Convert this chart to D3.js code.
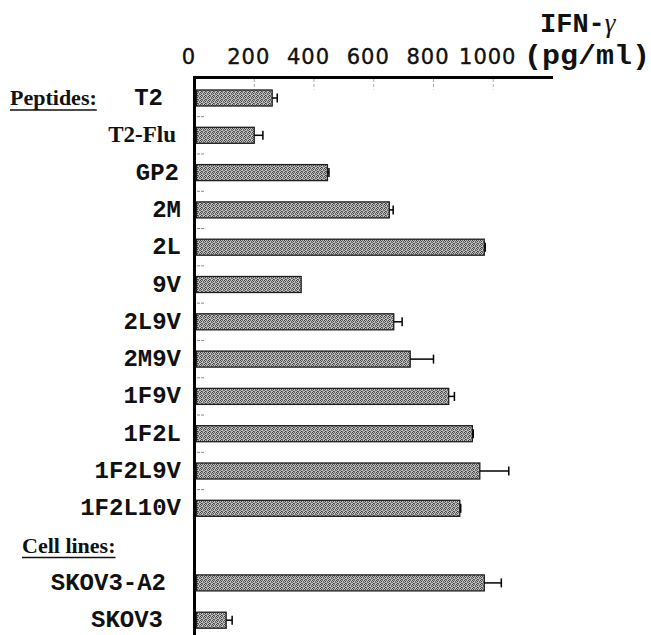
<!DOCTYPE html>
<html>
<head>
<meta charset="utf-8">
<script src="https://cdn.jsdelivr.net/npm/d3@7"></script>
<style>
  html, body { margin: 0; padding: 0; background: #fff; }
  svg { display: block; }
</style>
</head>
<body>
<svg id="chart" width="651" height="635"></svg>
<script>
// IFN-gamma release (pg/ml) per target
const categories = ["T2", "T2-Flu", "GP2", "2M", "2L", "9V", "2L9V", "2M9V",
                    "1F9V", "1F2L", "1F2L9V", "1F2L10V", "SKOV3-A2", "SKOV3"];
const values = [260, 200, 445, 652, 970, 357, 667, 722, 851, 930, 955, 888, 970, 106];
const errors = [17, 29, 5, 13, 3, 0, 28, 78, 19, 3, 97, 3, 57, 20];
const groupLabels = ["Peptides:", "Cell lines:"];
const tickValues = [0, 200, 400, 600, 800, 1000];

// Row slot of each category (slot 12 holds the "Cell lines:" heading)
const slots = categories.map((c, i) => i < 12 ? i : i + 1);

// Layout
const svg = d3.select("#chart");
const axisX = 194.5, axisY = 77.5;
const x = d3.scaleLinear().domain([0, 1200]).range([axisX, 553]);
const y = d3.scaleLinear().domain([0, 14]).range([98, 98 + 37.3 * 14]);
const barH = 16;

const mono = "'Courier New', 'Liberation Mono', monospace";
const serif = "'Times New Roman', 'Liberation Serif', serif";
const serifLabels = new Set(["T2-Flu"]);
// right edge of each row label
const labelRight = { "T2": 163, "T2-Flu": 176, "GP2": 179, "SKOV3-A2": 166, "SKOV3": 163 };

// stippled bar fill (irregular 4x4 dot cell)
const defs = svg.append("defs");
const pat = defs.append("pattern").attr("id", "stipple")
  .attr("patternUnits", "userSpaceOnUse").attr("width", 4).attr("height", 4);
pat.append("rect").attr("width", 4).attr("height", 4).attr("fill", "#c2c2c2");
const dots = [[0,0],[2,0],[3,1],[1,1],[0,2],[2,3],[1,3],[3,2]];
pat.selectAll("rect.d").data(dots).join("rect").attr("class", "d")
  .attr("x", d => d[0]).attr("y", d => d[1]).attr("width", 1).attr("height", 1)
  .attr("fill", (d, i) => i % 3 === 0 ? "#404040" : "#6a6a6a");

// top value axis
const axis = d3.axisTop(x).tickValues(tickValues).tickSize(0).tickFormat(d3.format("d"));
const gAxis = svg.append("g").attr("transform", `translate(0,${axisY})`).call(axis);
gAxis.select(".domain").remove();
gAxis.selectAll(".tick text")
  .attr("dx", -6).attr("y", -14)
  .attr("font-family", "'DejaVu Sans', sans-serif")
  .attr("font-size", 21).attr("letter-spacing", 1).attr("fill", "#111")
  .attr("stroke", "#111").attr("stroke-width", 0.4);

// light tick marks under the axis line
svg.append("g").selectAll("line").data(tickValues.slice(1)).join("line")
  .attr("x1", d => x(d)).attr("x2", d => x(d))
  .attr("y1", axisY + 1.5).attr("y2", axisY + 12)
  .attr("stroke", "#aaa").attr("stroke-width", 1).attr("stroke-dasharray", "3,2");

svg.append("line").attr("x1", axisX - 1.5).attr("x2", x(1200))
  .attr("y1", axisY).attr("y2", axisY).attr("stroke", "#000").attr("stroke-width", 3);
svg.append("line").attr("x1", axisX).attr("x2", axisX)
  .attr("y1", axisY - 1.5).attr("y2", 635).attr("stroke", "#000").attr("stroke-width", 3);

// axis title
const title = svg.append("g").attr("font-family", mono).attr("font-weight", "bold")
  .attr("font-size", 27).attr("fill", "#111");
const t1 = title.append("text").attr("x", 540).attr("y", 32);
t1.append("tspan").text("IFN-");
t1.append("tspan").attr("font-family", serif).attr("font-style", "italic")
  .attr("font-weight", "normal").text("γ");
title.append("text").attr("x", 524).attr("y", 64).attr("textLength", 126)
  .attr("lengthAdjust", "spacingAndGlyphs").text("(pg/ml)");

// faint marks between rows along the axis
svg.append("g").selectAll("line").data(d3.range(11)).join("line")
  .attr("x1", 197).attr("x2", 204)
  .attr("y1", d => y(d + 0.5)).attr("y2", d => y(d + 0.5))
  .attr("stroke", "#888").attr("stroke-width", 1).attr("stroke-dasharray", "3,1");

// bars
svg.append("g").selectAll("rect").data(categories).join("rect")
  .attr("x", axisX + 2)
  .attr("y", (d, i) => y(slots[i]) - barH / 2)
  .attr("width", (d, i) => x(values[i]) - axisX - 2)
  .attr("height", barH)
  .attr("fill", "url(#stipple)")
  .attr("stroke", "#1e1e1e").attr("stroke-width", 1.3);

// error bars
const eb = svg.append("g").attr("stroke", "#000").attr("stroke-width", 1.5);
categories.forEach((c, i) => {
  if (!errors[i]) return;
  const cy = y(slots[i]);
  eb.append("line").attr("x1", x(values[i])).attr("x2", x(values[i] + errors[i]))
    .attr("y1", cy).attr("y2", cy);
  eb.append("line").attr("x1", x(values[i] + errors[i])).attr("x2", x(values[i] + errors[i]))
    .attr("y1", cy - 4.5).attr("y2", cy + 4.5);
});

// row labels
svg.append("g").selectAll("text").data(categories).join("text")
  .attr("x", d => labelRight[d] || 181)
  .attr("y", (d, i) => y(slots[i]) + 7)
  .attr("text-anchor", "end")
  .attr("font-family", d => serifLabels.has(d) ? serif : mono)
  .attr("font-weight", "bold")
  .attr("font-size", d => serifLabels.has(d) ? 23 : 24)
  .attr("fill", "#111")
  .text(d => d);

// group headings, underlined
const groupSlots = [0, 12];
groupLabels.forEach((g, k) => {
  const ty = y(groupSlots[k]) + 7;
  const t = svg.append("text").attr("x", k === 0 ? 10 : 22).attr("y", ty)
    .attr("font-family", serif).attr("font-weight", "bold").attr("font-size", 22)
    .attr("fill", "#111").text(g);
  const bb = t.node().getBBox();
  svg.append("line").attr("x1", bb.x).attr("x2", bb.x + bb.width)
    .attr("y1", ty + 5).attr("y2", ty + 5)
    .attr("stroke", "#111").attr("stroke-width", 1.5);
});
</script>
</body>
</html>
